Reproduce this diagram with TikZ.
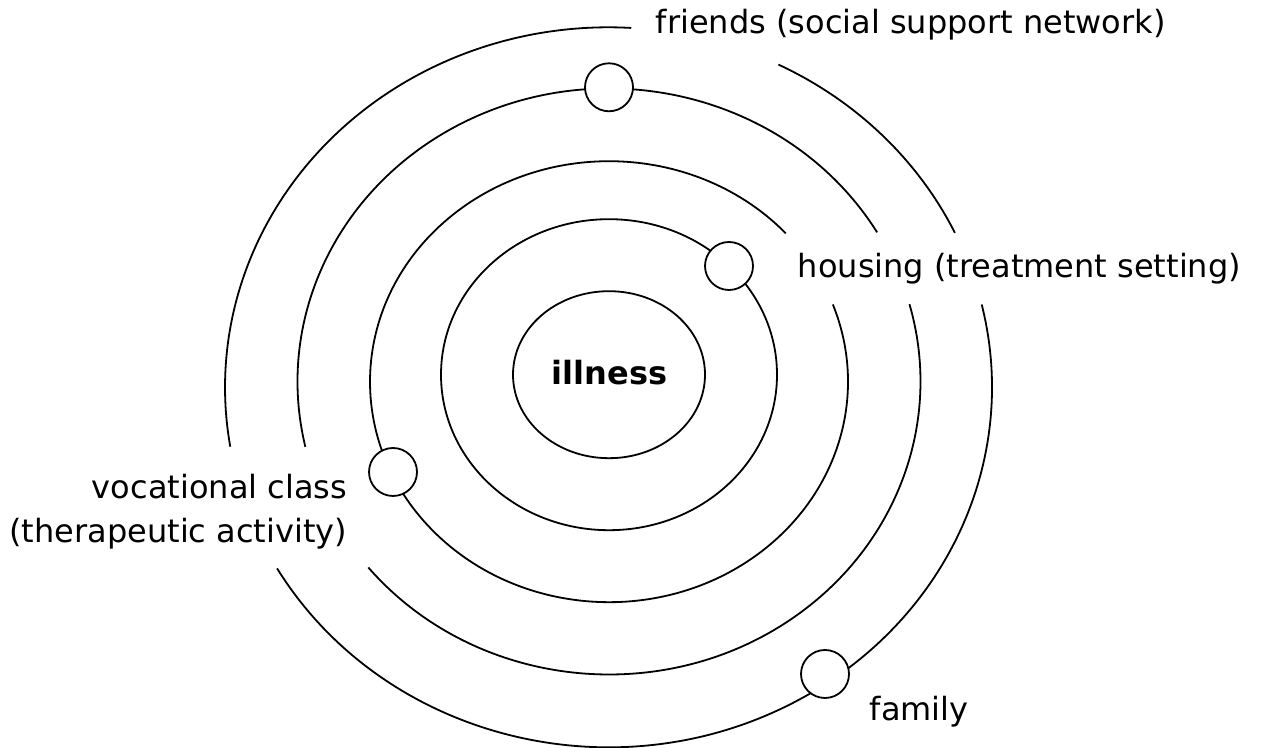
\documentclass[tikz,border=0pt]{standalone}
\usepackage{fontspec}
\setmainfont{DejaVu Sans}
\usepackage{tikz}

\begin{document}
\begin{tikzpicture}[x=0.5pt,y=0.5pt,line width=0.9pt,
		every node/.style={inner sep=0pt,font=\fontsize{16pt}{22pt}\selectfont}]
			\useasboundingbox (0,0) rectangle (1268,748);

			% centres of the rings
			\coordinate (O1) at (609,373.3);
			\coordinate (O3) at (609,366.3);
			\coordinate (O4) at (609,366.5);
			\coordinate (O5) at (608.5,360.7);

			% inner rings
			\draw (O1) ellipse [x radius=96, y radius=83.5];
			\draw (O1) ellipse [x radius=168, y radius=155.5];

			% outer rings, open where the labels are
			\draw ([shift={(42.3:239 and 220.5)}]O3) arc[start angle=42.3, end angle=380.5, x radius=239, y radius=220.5];
			\foreach \a/\b in {30.6/192.9, 219.4/375.3}
				\draw ([shift={(\a:311.5 and 293)}]O4) arc[start angle=\a, end angle=\b, x radius=311.5, y radius=293];
			\foreach \a/\b in {86.6/189.5, 210.2/373.3, 25.4/63.7}
				\draw ([shift={(\a:383.5 and 360)}]O5) arc[start angle=\a, end angle=\b, x radius=383.5, y radius=360];

			\begin{scope}[every node/.style={circle,draw,fill=white,minimum size=24pt,inner sep=0pt}]
				\node (Fri) at (609,660.7) {};
				\node (Hou) at (729,482) {};
				\node (Voc) at (393,276) {};
				\node (Fam) at (825,74) {};
			\end{scope}

			\node[anchor=base] (illness) at (609.5,363) {\bfseries illness};
			\node[anchor=base west] (friends) at (655,714) {friends (social support network)};
			\node[anchor=base west] (housing) at (797,470) {housing (treatment setting)};
			\node[anchor=east,align=right] (vocational) at (348,236) {vocational class\\(therapeutic activity)};
			\node[anchor=base west] (family) at (869,27) {family};
		\end{tikzpicture}
\end{document}
